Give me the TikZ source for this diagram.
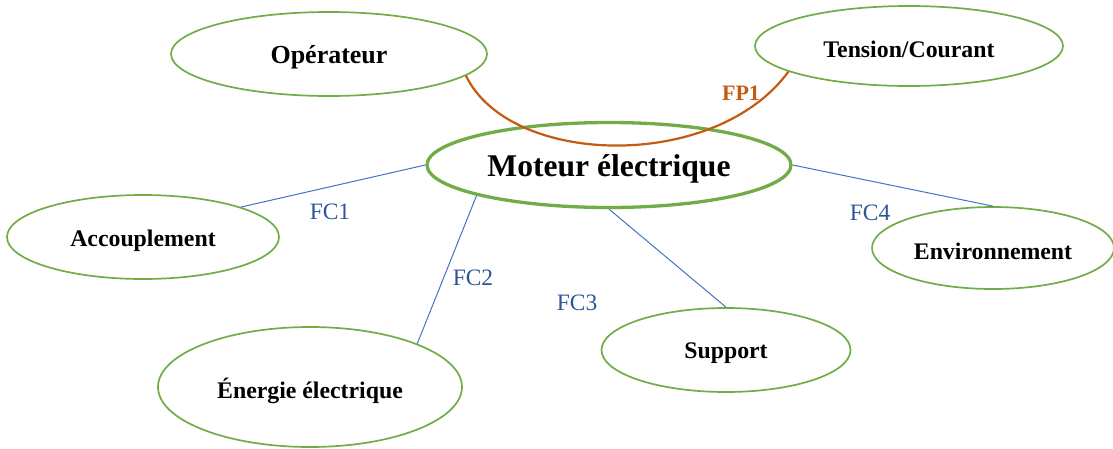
\documentclass[tikz,border=0pt]{standalone}
\usepackage{fontspec}
\setmainfont{Liberation Serif}
\usetikzlibrary{shapes.geometric}
\definecolor{cgreen}{HTML}{70AD47}
\definecolor{cline}{HTML}{4472C4}
\definecolor{clabel}{HTML}{2F5597}
\definecolor{corange}{HTML}{C55A11}
\newcommand\lowtxt[2]{\raisebox{-#1}[\height][\depth]{#2}}
\tikzset{
  oval/.style={ellipse, draw=cgreen, line width=1.7pt, fill=white, inner sep=0pt,
    font=\fontsize{23.8}{28}\selectfont\bfseries},
  mainoval/.style={oval, line width=3.3pt, font=\fontsize{31.6}{36}\selectfont\bfseries},
  link/.style={draw=cline, line width=1pt},
  fclabel/.style={text=clabel, inner sep=0pt, font=\fontsize{23.5}{27}\selectfont},
  fplabel/.style={text=corange, inner sep=0pt, font=\fontsize{22}{26}\selectfont\bfseries},
  fpcurve/.style={draw=corange, line width=2.2pt}
}
\begin{document}
\begin{tikzpicture}[x=1pt, y=-1pt]
\useasboundingbox (0,0) rectangle (1113,448);
\node[oval, minimum width=316pt, minimum height=84pt, font=\fontsize{26}{30}\selectfont\bfseries] (op) at (329,54) {\lowtxt{3.5pt}{Opérateur}};
\node[oval, minimum width=308pt, minimum height=80pt] (tc) at (909,46) {\lowtxt{3pt}{Tension/Courant}};
\node[oval, minimum width=272pt, minimum height=84pt] (acc) at (143,237) {\lowtxt{3.5pt}{Accouplement}};
\node[oval, minimum width=304pt, minimum height=120pt] (en) at (310,387) {\lowtxt{3.5pt}{Énergie électrique}};
\node[oval, minimum width=249pt, minimum height=84pt] (sup) at (726,350) {\lowtxt{3.5pt}{Support}};
\node[oval, minimum width=242pt, minimum height=82pt] (env) at (993,248) {\lowtxt{3pt}{Environnement}};
\node[mainoval, minimum width=364pt, minimum height=85pt, fill=none] (mot) at (609,165) {\lowtxt{4pt}{Moteur électrique}};

\draw[fpcurve] (op.-9) .. controls (510,167) and (715,172) .. (tc.-168);
\draw[link] (mot.west) -- (acc.17);
\draw[link] (mot.-167) -- (en.22);
\draw[link] (mot.south) -- (sup.north);
\draw[link] (mot.east) -- (env.north);

\node[fplabel] (fp1) at (741,93) {FP1};
\node[fclabel] (fc1) at (330,212) {FC1};
\node[fclabel] (fc2) at (473,278) {FC2};
\node[fclabel] (fc3) at (577,303) {FC3};
\node[fclabel] (fc4) at (870,213) {FC4};
\end{tikzpicture}
\end{document}
